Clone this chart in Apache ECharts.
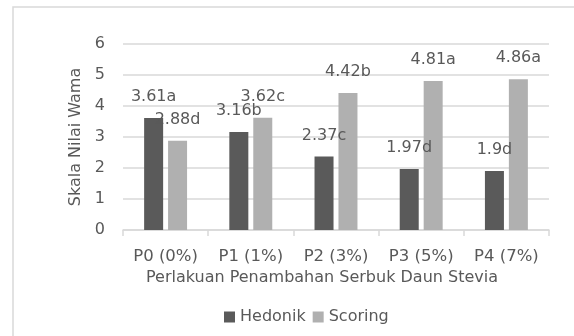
<!DOCTYPE html>
<html>
<head>
<meta charset="utf-8">
<style>
  html, body { margin: 0; padding: 0; background: #fff; }
  #chart { width: 574px; height: 336px; }
</style>
<script src="https://cdn.jsdelivr.net/npm/echarts@6/dist/echarts.min.js"></script>
</head>
<body>
<div id="chart"></div>
<script>
// Colour scale scores for each stevia-leaf powder treatment
const categories = ['P0 (0%)', 'P1 (1%)', 'P2 (3%)', 'P3 (5%)', 'P4 (7%)'];
const hedonikValues = [3.61, 3.16, 2.37, 1.97, 1.9];
const hedonikLetters = ['a', 'b', 'c', 'd', 'd'];
const scoringValues = [2.88, 3.62, 4.42, 4.81, 4.86];
const scoringLetters = ['d', 'c', 'b', 'a', 'a'];
const yTicks = [0, 1, 2, 3, 4, 5, 6];

const FONT = 'DejaVu Sans';
const TEXT = '#595959';
const GRID = '#d9d9d9';

const chart = echarts.init(document.getElementById('chart'), null, { renderer: 'canvas' });

function labelFor(values, letters) {
  return {
    show: true,
    position: 'top',
    distance: 13,
    fontFamily: FONT,
    fontSize: 16,
    color: TEXT,
    formatter: p => values[p.dataIndex] + letters[p.dataIndex]
  };
}

chart.setOption({
  animation: false,
  backgroundColor: '#fff',
  textStyle: { fontFamily: FONT },
  graphic: [{
    type: 'rect',
    shape: { x: 13, y: 7, width: 620, height: 400 },
    style: { fill: 'none', stroke: GRID, lineWidth: 1.5 },
    silent: true,
    z: -1
  }],
  grid: { left: 123, right: 25, top: 44, bottom: 106 },
  legend: {
    left: 219,
    top: 304,
    itemWidth: 11,
    itemHeight: 11,
    itemGap: 7,
    icon: 'rect',
    textStyle: { fontFamily: FONT, fontSize: 16, color: TEXT },
    data: ['Hedonik', 'Scoring']
  },
  xAxis: {
    type: 'category',
    data: categories,
    name: 'Perlakuan Penambahan Serbuk Daun Stevia',
    nameLocation: 'middle',
    nameGap: 40,
    nameTextStyle: { fontFamily: FONT, fontSize: 16, color: TEXT, padding: [0, 28, 0, 0] },
    axisLine: { lineStyle: { color: GRID, width: 1.5 } },
    axisTick: { show: true, length: 6, lineStyle: { color: GRID, width: 1.5 } },
    axisLabel: { fontFamily: FONT, fontSize: 16.5, color: TEXT, margin: 18 }
  },
  yAxis: {
    type: 'value',
    min: yTicks[0],
    max: yTicks[yTicks.length - 1],
    interval: 1,
    name: 'Skala Nilai Wama',
    nameLocation: 'middle',
    nameGap: 39,
    nameTextStyle: { fontFamily: FONT, fontSize: 16, color: TEXT },
    axisLine: { show: false },
    axisTick: { show: false },
    axisLabel: { fontFamily: FONT, fontSize: 16, color: TEXT, margin: 18 },
    splitLine: { lineStyle: { color: GRID, width: 1.5 } }
  },
  series: [
    {
      name: 'Hedonik',
      type: 'bar',
      data: hedonikValues,
      barWidth: 19,
      barGap: '26%',
      itemStyle: { color: '#5a5a5a' },
      label: labelFor(hedonikValues, hedonikLetters)
    },
    {
      name: 'Scoring',
      type: 'bar',
      data: scoringValues,
      barWidth: 19,
      itemStyle: { color: '#b0b0b0' },
      label: labelFor(scoringValues, scoringLetters)
    }
  ]
});
</script>
</body>
</html>
